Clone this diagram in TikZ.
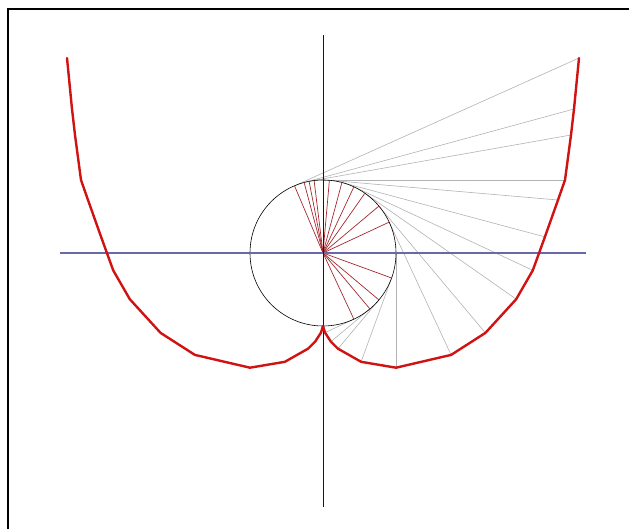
\documentclass[tikz,border=0pt]{standalone}
\usepackage{tikz}
\definecolor{curvered}{RGB}{208,18,18}
\definecolor{spokered}{RGB}{165,40,45}
\definecolor{tangentgrey}{RGB}{178,178,182}
\definecolor{axisblue}{RGB}{105,105,170}
\definecolor{axisnavy}{RGB}{10,10,120}

\begin{document}
\begin{tikzpicture}[x=1pt, y=-1pt,
  tangent/.style={tangentgrey, line width=0.6pt},
  spoke/.style={spokered, line width=0.7pt},
  involute/.style={curvered, line width=2.4pt, line join=round, line cap=round}]
\useasboundingbox (0,0) rectangle (629,529);
% frame
\draw[line width=2pt] (8,529) -- (8,9) -- (629,9);
\coordinate (o) at (323,253);
% tangents from the circle to the curve
\draw[tangent] (353.9,319.2) -- (325.0,332.6);
\draw[tangent] (369.9,308.9) -- (330.9,341.7);
\draw[tangent] (378.9,299.9) -- (338.0,348.7);
\draw[tangent] (391.6,278.0) -- (361.1,361.8);
\draw[tangent] (396,253) -- (396,367.7);
\draw[tangent] (389.2,222.1) -- (451.1,354.9);
\draw[tangent] (378.9,206.1) -- (485.4,332.9);
\draw[tangent] (364.9,193.2) -- (516.2,299.2);
\draw[tangent] (353.9,186.8) -- (532.8,270.3);
\draw[tangent] (341.9,182.5) -- (544.9,236.9);
\draw[tangent] (329.4,180.3) -- (558,200);
\draw[tangent] (323,180) -- (565,180);
\draw[tangent] (309.1,181.3) -- (571,135);
\draw[tangent] (304.1,182.5) -- (574,109);
\draw[tangent] (294.5,185.8) -- (579,58);
% circle
\draw[line width=0.6pt] (o) circle (73);
% radii
\draw[spoke] (o) -- (353.9,319.2);
\draw[spoke] (o) -- (369.9,308.9);
\draw[spoke] (o) -- (378.9,299.9);
\draw[spoke] (o) -- (391.6,278.0);
\draw[spoke] (o) -- (389.2,222.1);
\draw[spoke] (o) -- (378.9,206.1);
\draw[spoke] (o) -- (364.9,193.2);
\draw[spoke] (o) -- (353.9,186.8);
\draw[spoke] (o) -- (341.9,182.5);
\draw[spoke] (o) -- (329.4,180.3);
\draw[spoke] (o) -- (314.1,180.5);
\draw[spoke] (o) -- (309.1,181.3);
\draw[spoke] (o) -- (304.1,182.5);
\draw[spoke] (o) -- (294.5,185.8);
% axes
\draw[axisblue, line width=1.1pt] (60,253) -- (586,253);
\draw[axisnavy, line width=0.8pt] (323,35) -- (323,507);
% curve
\draw[involute] (67,58) -- (72,109) -- (75,135) -- (81,180) -- (88,200)
  -- (101.1,236.9) -- (113.2,270.3) -- (129.8,299.2) -- (160.6,332.9)
  -- (194.9,354.9) -- (250,367.7) -- (284.9,361.8) -- (308.0,348.7)
  -- (315.1,341.7) -- (321.0,332.6) -- (323,326) -- (325.0,332.6)
  -- (330.9,341.7) -- (338.0,348.7) -- (361.1,361.8) -- (396,367.7)
  -- (451.1,354.9) -- (485.4,332.9) -- (516.2,299.2) -- (532.8,270.3)
  -- (544.9,236.9) -- (558,200) -- (565,180) -- (571,135) -- (574,109)
  -- (579,58);
\end{tikzpicture}
\end{document}
